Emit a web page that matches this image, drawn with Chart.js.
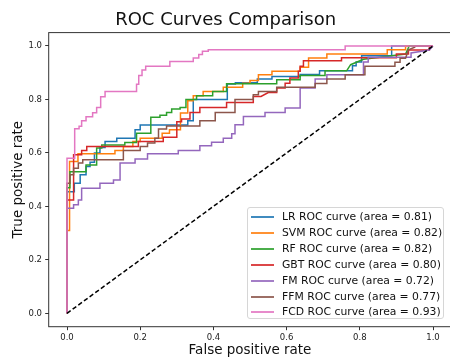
<!DOCTYPE html>
<html>
<head>
<meta charset="utf-8">
<title>ROC Curves Comparison</title>
<script src="https://cdn.jsdelivr.net/npm/chart.js@4.4.0/dist/chart.umd.min.js"></script>
<style>
  html, body { margin: 0; padding: 0; background: #fff; overflow: hidden; }
  #wrap { position: relative; width: 450px; height: 359px; overflow: hidden; }
  #roc { position: absolute; left: 0; top: 0; width: 452px; height: 359px; }
  .legend-box {
    position: absolute; left: 247px; top: 207px; width: 197px; height: 112px;
    border: 1px solid #d6d6d6; border-radius: 3px; background: rgba(255,255,255,0.8);
    font-family: 'DejaVu Sans', sans-serif; font-size: 10.8px; color: #111;
    box-sizing: border-box;
  }
  .legend-row { position: absolute; left: 0; height: 16px; line-height: 16px; white-space: nowrap; }
  .legend-line { position: absolute; left: 3px; top: 7px; width: 23px; height: 2px; opacity: 0.85; }
  .legend-text { position: absolute; left: 34px; top: 0; }
</style>
</head>
<body>
<div id="wrap">
  <canvas id="roc" width="452" height="359"></canvas>
  <div id="legend" class="legend-box"></div>
</div>
<script>
// ============================================
// DATA
// ============================================
const models = ['LR', 'SVM', 'RF', 'GBT', 'FM', 'FFM', 'FCD'];
const areas = [0.81, 0.82, 0.82, 0.80, 0.72, 0.77, 0.93];
const colors = ['#1f77b4', '#ff7f0e', '#2ca02c', '#d62728', '#9467bd', '#8c564b', '#e377c2'];
const tickValues = [0, 0.2, 0.4, 0.6, 0.8, 1.0];

// [false positive rate, true positive rate]
const lrRoc = [[0,0],[0,0.455],[0.02,0.455],[0.02,0.487],[0.036,0.487],[0.036,0.518],[0.052,0.518],[0.052,0.549],[0.063,0.549],[0.063,0.565],[0.075,0.565],[0.075,0.60],[0.09,0.60],[0.09,0.62],[0.104,0.62],[0.104,0.643],[0.136,0.643],[0.136,0.655],[0.186,0.655],[0.186,0.687],[0.2,0.687],[0.2,0.704],[0.33,0.704],[0.33,0.72],[0.345,0.72],[0.345,0.80],[0.438,0.80],[0.438,0.858],[0.46,0.858],[0.46,0.862],[0.52,0.862],[0.52,0.876],[0.56,0.876],[0.56,0.886],[0.637,0.886],[0.637,0.893],[0.69,0.893],[0.69,0.907],[0.78,0.907],[0.78,0.926],[0.79,0.926],[0.79,0.94],[0.805,0.94],[0.805,0.963],[0.887,0.963],[0.887,1.0],[1,1]];
const svmRoc = [[0,0],[0,0.31],[0.007,0.31],[0.007,0.568],[0.03,0.568],[0.03,0.597],[0.131,0.597],[0.131,0.609],[0.154,0.609],[0.154,0.624],[0.18,0.624],[0.18,0.643],[0.2,0.643],[0.2,0.655],[0.26,0.655],[0.26,0.674],[0.28,0.674],[0.28,0.687],[0.31,0.687],[0.31,0.749],[0.33,0.749],[0.33,0.795],[0.345,0.795],[0.345,0.814],[0.372,0.814],[0.372,0.83],[0.427,0.83],[0.427,0.846],[0.48,0.846],[0.48,0.861],[0.5,0.861],[0.5,0.871],[0.523,0.871],[0.523,0.892],[0.56,0.892],[0.56,0.905],[0.637,0.905],[0.637,0.92],[0.66,0.92],[0.66,0.955],[0.71,0.955],[0.71,0.97],[0.875,0.97],[0.875,0.986],[0.925,0.986],[0.925,1.0],[1,1]];
const rfRoc = [[0,0],[0,0.47],[0.008,0.47],[0.008,0.53],[0.052,0.53],[0.052,0.555],[0.081,0.555],[0.081,0.618],[0.095,0.618],[0.095,0.63],[0.158,0.63],[0.158,0.639],[0.19,0.639],[0.19,0.674],[0.229,0.674],[0.229,0.733],[0.254,0.733],[0.254,0.741],[0.272,0.741],[0.272,0.751],[0.286,0.751],[0.286,0.764],[0.309,0.764],[0.309,0.77],[0.325,0.77],[0.325,0.80],[0.354,0.80],[0.354,0.814],[0.398,0.814],[0.398,0.83],[0.436,0.83],[0.436,0.859],[0.573,0.859],[0.573,0.874],[0.637,0.874],[0.637,0.89],[0.705,0.89],[0.705,0.907],[0.764,0.907],[0.775,0.93],[0.81,0.95],[0.925,0.97],[0.935,1.0],[1,1]];
const gbtRoc = [[0,0],[0,0.424],[0.018,0.424],[0.018,0.593],[0.04,0.593],[0.04,0.609],[0.054,0.609],[0.054,0.624],[0.195,0.624],[0.195,0.643],[0.263,0.643],[0.263,0.659],[0.3,0.659],[0.3,0.717],[0.313,0.717],[0.313,0.727],[0.336,0.727],[0.336,0.751],[0.363,0.751],[0.363,0.77],[0.436,0.77],[0.436,0.789],[0.509,0.789],[0.509,0.811],[0.53,0.811],[0.55,0.826],[0.573,0.826],[0.573,0.843],[0.596,0.843],[0.596,0.861],[0.609,0.861],[0.609,0.88],[0.632,0.88],[0.632,0.905],[0.637,0.905],[0.637,0.924],[0.646,0.924],[0.646,0.945],[0.75,0.945],[0.75,0.956],[0.9,0.956],[0.9,0.97],[0.933,0.97],[0.933,0.985],[0.99,0.985],[0.99,1.0],[1,1]];
const fmRoc = [[0,0],[0,0.393],[0.018,0.393],[0.018,0.406],[0.031,0.406],[0.031,0.424],[0.04,0.424],[0.04,0.468],[0.09,0.468],[0.09,0.487],[0.127,0.487],[0.127,0.499],[0.145,0.499],[0.145,0.562],[0.186,0.562],[0.186,0.577],[0.22,0.577],[0.22,0.597],[0.304,0.597],[0.304,0.609],[0.363,0.609],[0.363,0.627],[0.395,0.627],[0.395,0.64],[0.427,0.64],[0.427,0.655],[0.45,0.655],[0.45,0.672],[0.459,0.672],[0.459,0.705],[0.482,0.705],[0.482,0.736],[0.541,0.736],[0.541,0.751],[0.596,0.751],[0.596,0.768],[0.637,0.768],[0.637,0.843],[0.678,0.843],[0.678,0.876],[0.71,0.876],[0.71,0.892],[0.81,0.892],[0.81,0.94],[0.823,0.94],[0.823,0.958],[0.94,0.958],[0.94,0.974],[0.99,0.985],[1,1]];
const ffmRoc = [[0,0],[0,0.487],[0.008,0.487],[0.008,0.518],[0.018,0.518],[0.018,0.543],[0.031,0.543],[0.031,0.562],[0.043,0.562],[0.043,0.574],[0.154,0.574],[0.154,0.609],[0.2,0.609],[0.2,0.624],[0.22,0.624],[0.22,0.637],[0.24,0.637],[0.24,0.655],[0.25,0.655],[0.25,0.689],[0.272,0.689],[0.272,0.701],[0.363,0.701],[0.363,0.72],[0.405,0.72],[0.405,0.751],[0.459,0.751],[0.459,0.80],[0.509,0.80],[0.509,0.818],[0.523,0.818],[0.523,0.83],[0.573,0.83],[0.573,0.846],[0.678,0.846],[0.678,0.86],[0.71,0.86],[0.71,0.876],[0.76,0.876],[0.76,0.892],[0.814,0.892],[0.814,0.924],[0.896,0.924],[0.896,0.939],[0.91,0.939],[0.91,0.954],[0.925,0.954],[0.933,0.986],[0.95,0.995],[0.95,1.0],[1,1]];
const fcdRoc = [[0,0],[0,0.58],[0.021,0.58],[0.021,0.69],[0.033,0.69],[0.033,0.70],[0.04,0.70],[0.04,0.72],[0.052,0.72],[0.052,0.735],[0.07,0.735],[0.07,0.75],[0.081,0.75],[0.081,0.77],[0.092,0.77],[0.092,0.81],[0.104,0.81],[0.104,0.83],[0.19,0.83],[0.19,0.857],[0.196,0.857],[0.196,0.89],[0.205,0.89],[0.205,0.91],[0.215,0.91],[0.215,0.924],[0.281,0.924],[0.281,0.942],[0.345,0.942],[0.345,0.955],[0.36,0.955],[0.36,0.968],[0.37,0.968],[0.37,0.98],[0.386,0.98],[0.386,0.986],[0.76,0.986],[0.76,1.0],[1,1]];
const chanceLine = [[0,0],[1,1]];

const curves = [lrRoc, svmRoc, rfRoc, gbtRoc, fmRoc, ffmRoc, fcdRoc];

// ============================================
// DATASETS
// ============================================
const datasets = curves.map((pts, i) => ({
  label: `${models[i]} ROC curve (area = ${areas[i].toFixed(2)})`,
  data: pts.map(p => ({ x: p[0], y: p[1] })),
  borderColor: colors[i],
  borderWidth: 1.5,
  pointRadius: 0,
  fill: false,
  tension: 0,
  order: curves.length - i + 1
}));

datasets.push({
  label: 'chance',
  data: chanceLine.map(p => ({ x: p[0], y: p[1] })),
  borderColor: '#000',
  borderWidth: 1.5,
  borderDash: [4.5, 2.5],
  pointRadius: 0,
  fill: false,
  order: 0
});

// frame round the plot area, like matplotlib spines
const framePlugin = {
  id: 'frame',
  afterDatasetsDraw(chart) {
    const { ctx, chartArea: a } = chart;
    ctx.save();
    ctx.strokeStyle = '#333';
    ctx.lineWidth = 1;
    ctx.strokeRect(a.left, a.top, a.right - a.left, a.bottom - a.top);
    ctx.restore();
  }
};

const tickFont = { family: 'DejaVu Sans', size: 8.5 };
const labelFont = { family: 'DejaVu Sans', size: 13.5 };

function axisOptions(title, isY) {
  return {
    type: 'linear',
    min: -0.05,
    max: 1.05,
    afterBuildTicks: scale => { scale.ticks = tickValues.map(v => ({ value: v })); },
    afterFit: scale => {
      if (isY) scale.width = 48.7; else scale.height = 32.3;
    },
    border: { display: false },
    grid: { display: true, drawOnChartArea: false, drawTicks: true, tickLength: 3.5, color: '#333', tickWidth: 1 },
    ticks: {
      font: tickFont,
      color: '#222',
      padding: isY ? 3.2 : 2,
      maxRotation: 0,
      autoSkip: false,
      callback: v => v.toFixed(1)
    },
    title: {
      display: true,
      text: title,
      font: labelFont,
      color: '#111',
      padding: isY ? { top: 10.4, bottom: 0 } : { top: 0, bottom: 0.5 }
    }
  };
}

new Chart(document.getElementById('roc'), {
  type: 'line',
  data: { datasets },
  options: {
    responsive: false,
    animation: false,
    layout: { padding: { top: 0, right: 0.7, left: 0, bottom: 0 } },
    plugins: {
      legend: { display: false },
      tooltip: { enabled: false },
      title: {
        display: true,
        text: 'ROC Curves Comparison',
        font: { family: 'DejaVu Sans', size: 18, weight: 'normal', lineHeight: 1.2 },
        color: '#111',
        padding: { top: 9.7, bottom: 1.3 }
      }
    },
    scales: {
      x: axisOptions('False positive rate', false),
      y: axisOptions('True positive rate', true)
    }
  },
  plugins: [framePlugin]
});

// ============================================
// LEGEND (inside the plot, lower right)
// ============================================
// row tops rounded to whole pixels so every sample line renders alike
const rowStep = 15.85;
document.getElementById('legend').innerHTML = models.map((m, i) => `
  <div class="legend-row" style="top:${Math.round(1.3 + i * rowStep)}px">
    <span class="legend-line" style="background:${colors[i]}"></span>
    <span class="legend-text">${m} ROC curve (area = ${areas[i].toFixed(2)})</span>
  </div>
`).join('');
</script>
</body>
</html>
